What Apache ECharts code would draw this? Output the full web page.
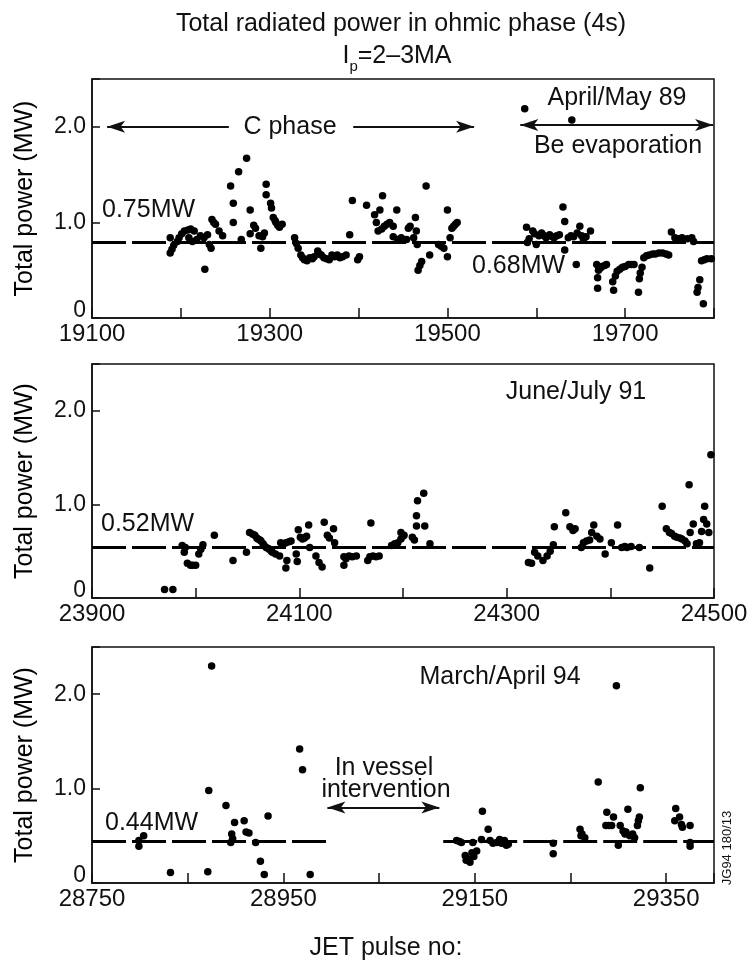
<!DOCTYPE html>
<html>
<head>
<meta charset="utf-8">
<script src="https://cdn.jsdelivr.net/npm/echarts@6/dist/echarts.min.js"></script>
<style>
  html, body { margin: 0; padding: 0; background: #fff; }
  #main { width: 753px; height: 964px; }
</style>
</head>
<body>
<div id="main"></div>
<script>
// JET radiated power, three campaigns

// 1989 campaign: [pulse, MW]
var shots89 = [
  [19188,0.84],[19188,0.68],[19190,0.72],[19192,0.76],[19196,0.80],[19198,0.84],[19201,0.88],[19204,0.91],
  [19208,0.92],[19211,0.93],[19215,0.91],[19209,0.84],[19213,0.80],[19218,0.82],[19222,0.86],[19226,0.84],
  [19230,0.87],[19232,0.77],[19234,0.73],[19227,0.51],[19235,1.03],[19237,1.00],[19239,0.98],[19243,0.91],
  [19247,0.86],[19256,1.38],[19259,1.20],[19259,1.00],[19265,1.53],[19268,0.82],[19274,1.67],[19278,1.13],
  [19278,0.88],[19282,0.97],[19284,0.94],[19288,0.86],[19290,0.73],[19292,0.85],[19294,0.89],[19296,1.40],
  [19296,1.29],[19301,1.20],[19302,1.15],[19304,1.05],[19306,1.02],[19307,1.00],[19309,0.97],[19311,0.95],
  [19314,0.98],[19328,0.84],[19330,0.78],[19332,0.73],[19335,0.66],[19337,0.63],[19339,0.61],[19342,0.60],
  [19345,0.63],[19348,0.62],[19350,0.64],[19354,0.70],[19356,0.67],[19358,0.66],[19361,0.63],[19364,0.62],
  [19367,0.61],[19370,0.66],[19373,0.64],[19376,0.66],[19379,0.63],[19382,0.64],[19386,0.66],[19390,0.87],
  [19401,0.64],[19399,0.61],[19393,1.23],[19409,1.18],[19418,1.08],[19420,1.00],[19424,1.13],[19427,1.28],
  [19422,0.91],[19426,0.93],[19429,0.96],[19432,0.98],[19435,1.00],[19439,0.96],[19443,1.13],[19439,0.85],
  [19444,0.82],[19448,0.84],[19454,0.82],[19456,0.94],[19458,0.96],[19462,0.84],[19464,1.05],[19465,0.91],
  [19466,0.77],[19467,0.50],[19469,0.55],[19471,0.59],[19476,1.38],[19480,0.66],[19490,0.77],[19493,0.75],
  [19496,0.73],[19500,0.64],[19500,1.13],[19503,0.84],[19505,0.94],[19507,0.96],[19509,0.98],[19511,1.00],
  [19587,2.19],[19640,2.07],[19589,0.95],[19590,0.79],[19592,0.83],[19596,0.91],[19598,0.88],[19600,0.77],
  [19603,0.86],[19606,0.89],[19609,0.86],[19611,0.84],[19615,0.87],[19618,0.85],[19620,0.84],[19623,0.86],
  [19626,0.87],[19630,1.16],[19632,1.01],[19632,0.71],[19636,0.84],[19639,0.86],[19642,0.85],[19646,0.89],
  [19649,0.96],[19651,0.86],[19653,0.82],[19656,0.85],[19661,0.91],[19645,0.56],[19668,0.56],[19670,0.50],
  [19672,0.52],[19674,0.54],[19677,0.55],[19679,0.56],[19669,0.31],[19669,0.42],[19686,0.38],[19687,0.29],
  [19689,0.44],[19691,0.49],[19694,0.51],[19697,0.53],[19700,0.54],[19704,0.56],[19707,0.56],[19710,0.56],
  [19716,0.41],[19715,0.27],[19717,0.47],[19719,0.53],[19721,0.63],[19724,0.65],[19727,0.66],[19731,0.67],
  [19734,0.67],[19738,0.68],[19742,0.68],[19746,0.67],[19749,0.66],[19752,0.90],[19756,0.84],[19760,0.83],
  [19764,0.84],[19770,0.83],[19775,0.84],[19777,0.80],[19784,0.40],[19782,0.32],[19781,0.27],[19788,0.15],
  [19786,0.60],[19789,0.61],[19792,0.62],[19797,0.62]
];

// 1991 campaign
var shots91 = [
  [23970,0.09],[23978,0.09],[23987,0.56],[23989,0.49],[23990,0.54],[23992,0.37],[23995,0.35],[23997,0.35],
  [24000,0.35],[24003,0.47],[24005,0.52],[24007,0.57],[24018,0.67],[24036,0.40],[24049,0.49],[24052,0.70],
  [24055,0.68],[24057,0.67],[24059,0.64],[24060,0.63],[24062,0.62],[24063,0.61],[24065,0.58],[24066,0.56],
  [24068,0.54],[24070,0.53],[24071,0.52],[24073,0.50],[24074,0.49],[24077,0.47],[24081,0.45],[24082,0.59],
  [24085,0.58],[24087,0.59],[24088,0.40],[24087,0.32],[24090,0.60],[24092,0.61],[24097,0.47],[24098,0.39],
  [24099,0.73],[24101,0.65],[24103,0.63],[24105,0.64],[24107,0.66],[24109,0.78],[24110,0.54],[24116,0.45],
  [24119,0.38],[24122,0.33],[24124,0.81],[24127,0.67],[24129,0.64],[24133,0.74],[24134,0.59],[24143,0.44],
  [24143,0.35],[24145,0.42],[24148,0.45],[24151,0.44],[24155,0.45],[24166,0.40],[24168,0.44],[24171,0.45],
  [24174,0.44],[24177,0.45],[24169,0.80],[24189,0.56],[24192,0.58],[24195,0.59],[24198,0.70],[24198,0.63],
  [24200,0.66],[24201,0.67],[24209,0.65],[24211,0.62],[24213,0.88],[24213,0.77],[24214,1.04],[24220,1.12],
  [24221,0.77],[24226,0.58],
  [24321,0.38],[24324,0.37],[24327,0.49],[24330,0.45],[24335,0.40],[24339,0.45],[24342,0.50],[24345,0.57],
  [24346,0.76],[24357,0.91],[24361,0.76],[24364,0.72],[24366,0.74],[24372,0.54],[24374,0.59],[24377,0.61],
  [24380,0.62],[24382,0.70],[24384,0.78],[24387,0.66],[24390,0.63],[24395,0.47],[24401,0.59],[24407,0.78],
  [24411,0.54],[24414,0.55],[24416,0.54],[24420,0.55],[24428,0.54],[24438,0.32],[24450,0.98],[24454,0.74],
  [24457,0.70],[24459,0.69],[24462,0.66],[24464,0.65],[24467,0.64],[24469,0.63],[24472,0.61],[24474,0.58],
  [24476,1.21],[24477,0.70],[24480,0.79],[24483,0.58],[24486,0.59],[24488,0.71],[24490,0.84],[24491,0.98],
  [24493,0.79],[24495,0.70],[24497,1.53]
];

// 1994 campaign
var shots94 = [
  [28799,0.45],[28799,0.39],[28804,0.50],[28832,0.11],[28871,0.12],[28872,0.98],[28875,2.30],[28890,0.82],
  [28895,0.43],[28896,0.52],[28897,0.47],[28899,0.64],[28909,0.66],[28911,0.54],[28914,0.53],[28921,0.43],
  [28926,0.23],[28930,0.09],[28934,0.71],[28967,1.42],[28970,1.20],[28978,0.09],
  [29131,0.45],[29134,0.44],[29136,0.43],[29140,0.29],[29141,0.24],[29143,0.25],[29145,0.22],[29147,0.32],
  [29149,0.28],[29152,0.34],[29148,0.43],[29157,0.46],[29158,0.76],[29164,0.57],[29166,0.45],[29169,0.42],
  [29173,0.43],[29176,0.46],[29178,0.42],[29181,0.45],[29183,0.40],[29185,0.41],[29232,0.42],[29232,0.31],
  [29260,0.57],[29261,0.50],[29262,0.52],[29265,0.48],[29279,1.07],[29288,0.75],[29287,0.61],[29290,0.61],
  [29293,0.61],[29295,0.70],[29298,2.09],[29300,0.40],[29302,0.61],[29305,0.55],[29307,0.52],[29308,0.54],
  [29310,0.78],[29312,0.50],[29315,0.52],[29317,0.48],[29320,0.61],[29321,0.66],[29322,0.70],[29323,1.01],
  [29359,0.66],[29360,0.79],[29364,0.70],[29366,0.62],[29367,0.59],[29375,0.61],[29375,0.43],[29375,0.39]
];

// pulse ranges of the three panels
var xRanges = [[19100, 19800], [23900, 24500], [28750, 29400]];
// average levels (as drawn)
var levels = [0.79, 0.54, 0.44];
// dashed level lines, '-' breaks the line during the vessel intervention
var level89 = [[19100, levels[0]], [19800, levels[0]]];
var level91 = [[23900, levels[1]], [24500, levels[1]]];
var level94 = [[28750, levels[2]], [28996, levels[2]], [29050, '-'], [29117, levels[2]], [29400, levels[2]]];

var FONT = '"Liberation Sans", Arial, Helvetica, sans-serif';
var INK = '#111';

function chart() {
  var myChart = echarts.init(document.getElementById('main'));

  var grids = [
    { left: 92, right: 39, top: 79, height: 239 },
    { left: 92, right: 39, top: 364, height: 234 },
    { left: 92, right: 39, top: 647, height: 236 }
  ];

  function xAxis(i) {
    var lo = xRanges[i][0];
    return {
      type: 'value', gridIndex: i, min: lo, max: xRanges[i][1], interval: 100,
      axisLine: { lineStyle: { color: INK, width: 1.5 } },
      axisTick: { inside: true, length: 10, lineStyle: { color: INK, width: 1.5 } },
      splitLine: { show: false },
      axisLabel: {
        color: INK, fontSize: 24, fontFamily: FONT, margin: 4,
        showMinLabel: true, showMaxLabel: true,
        formatter: function (v) { return (Math.round(v) - lo) % 200 === 0 ? String(Math.round(v)) : ''; }
      }
    };
  }

  function yAxis(i) {
    return {
      type: 'value', gridIndex: i, min: 0, max: 2.5, interval: 1,
      name: 'Total power (MW)', nameLocation: 'middle', nameGap: 54,
      nameTextStyle: { fontSize: 25, color: '#000', fontFamily: FONT },
      axisLine: { show: true, lineStyle: { color: INK, width: 1.5 } },
      axisTick: { show: true, inside: true, length: 8, lineStyle: { color: INK, width: 1.5 } },
      splitLine: { show: false },
      axisLabel: {
        color: INK, fontSize: 23, fontFamily: FONT, margin: 6,
        formatter: function (v) {
          if (v === 0) return '{z|0}';
          return Math.abs(v - Math.round(v)) < 1e-6 ? v.toFixed(1) : '';
        },
        rich: { z: { fontSize: 23, color: INK, fontFamily: FONT, padding: [0, 0, 14, 0] } }
      }
    };
  }

  function arrows(list) {
    return {
      silent: true, animation: false,
      label: { show: false },
      lineStyle: { color: INK, width: 1.8, type: 'solid', opacity: 1 },
      symbolSize: [9, 18],
      data: list
    };
  }

  function dots(i, data, marks) {
    var s = {
      type: 'scatter', xAxisIndex: i, yAxisIndex: i, data: data,
      symbolSize: 7.5, itemStyle: { color: '#000', opacity: 1 }, silent: true
    };
    if (marks) s.markLine = arrows(marks);
    return s;
  }

  function level(i, data) {
    return {
      type: 'line', xAxisIndex: i, yAxisIndex: i, data: data, symbol: 'none', silent: true,
      lineStyle: { color: '#000', width: 3, type: [34, 6] }
    };
  }

  function txt(x, y, s, size, rot) {
    return {
      type: 'text', x: x, y: y, rotation: rot || 0,
      style: {
        text: s, fill: INK, font: (size || 25) + 'px ' + FONT,
        textAlign: 'center', textVerticalAlign: 'middle', align: 'center', verticalAlign: 'middle'
      }
    };
  }
  function txtL(x, y, s) {
    var t = txt(x, y, s);
    t.style.textAlign = 'left';
    t.style.align = 'left';
    return t;
  }

  var option = {
    backgroundColor: '#fff',
    animation: false,
    grid: grids.map(function (g) {
      return Object.assign({ show: true, borderColor: INK, borderWidth: 1.5, backgroundColor: 'transparent' }, g);
    }),
    xAxis: [xAxis(0), xAxis(1), xAxis(2)],
    yAxis: [yAxis(0), yAxis(1), yAxis(2)],
    series: [
      level(0, level89),
      level(1, level91),
      level(2, level94),
      dots(0, shots89, [
        [{ coord: [19254, 2.0], symbol: 'none' }, { coord: [19117, 2.0], symbol: 'arrow' }],
        [{ coord: [19394, 2.0], symbol: 'none' }, { coord: [19530, 2.0], symbol: 'arrow' }],
        [{ coord: [19582, 2.02], symbol: 'arrow' }, { coord: [19799, 2.02], symbol: 'arrow' }]
      ]),
      dots(1, shots91),
      dots(2, shots94, [
        [{ coord: [28996, 0.8], symbol: 'arrow' }, { coord: [29113, 0.8], symbol: 'arrow' }]
      ])
    ],
    graphic: [
      txt(401, 24, 'Total radiated power in ohmic phase (4s)'),
      {
        type: 'text', x: 397, y: 56,
        style: {
          text: '{a|I}{s|p}{a|=2–3MA}', fill: INK,
          textAlign: 'center', textVerticalAlign: 'middle', align: 'center', verticalAlign: 'middle',
          rich: {
            a: { fontSize: 25, fontFamily: FONT, fill: INK, lineHeight: 36, verticalAlign: 'middle' },
            s: { fontSize: 15, fontFamily: FONT, fill: INK, lineHeight: 36, verticalAlign: 'bottom' }
          }
        }
      },
      txt(290, 127, 'C phase'),
      txt(617, 98, 'April/May 89'),
      txt(618, 146, 'Be evaporation'),
      txtL(102, 210, '0.75MW'),
      txtL(472, 266, '0.68MW'),
      txt(576, 392, 'June/July 91'),
      txtL(101, 524, '0.52MW'),
      txt(500, 677, 'March/April 94'),
      txt(384, 768, 'In vessel'),
      txt(386, 790, 'intervention'),
      txtL(105, 823, '0.44MW'),
      txt(386, 948, 'JET pulse no:'),
      txt(727, 848, 'JG94 180/13', 13, Math.PI / 2)
    ]
  };

  myChart.setOption(option);
}

window.onload = function () {
  chart();
};
</script>
</body>
</html>
